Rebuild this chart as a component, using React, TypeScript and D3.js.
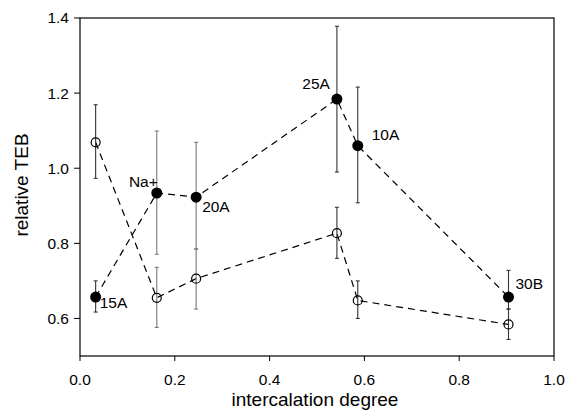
import * as d3 from "d3";

// filled markers (labelled samples)
const labels = ["15A", "Na+", "20A", "25A", "10A", "30B"];
const filledX = [0.033, 0.162, 0.245, 0.542, 0.586, 0.904];
const filledY = [0.657, 0.934, 0.923, 1.184, 1.06, 0.657];
const filledHi = [0.7, 1.099, 1.069, 1.378, 1.216, 0.728];
const filledLo = [0.617, 0.771, 0.785, 0.99, 0.908, 0.625];

// open markers
const openX = [0.033, 0.162, 0.245, 0.542, 0.586, 0.904];
const openY = [1.069, 0.655, 0.706, 0.827, 0.648, 0.584];
const openHi = [1.169, 0.736, 0.785, 0.896, 0.7, 0.625];
const openLo = [0.973, 0.576, 0.625, 0.76, 0.6, 0.544];

const xTicks = [0, 0.2, 0.4, 0.6, 0.8, 1.0];
const yTicks = [0.6, 0.8, 1.0, 1.2, 1.4];

// label offsets relative to the marker
const labelPos: [number, number, string][] = [
  [4, 11, "start"],
  [1, -6, "end"],
  [6, 15, "start"],
  [-7, -10, "end"],
  [14, -6, "start"],
  [7, -8, "start"],
];

const W = 567;
const H = 412;
const FONT = "Liberation Sans, Arial, Helvetica, sans-serif";

export default function App() {
  const x = d3.scaleLinear().domain([0, 1]).range([80, 554]);
  const y = d3.scaleLinear().domain([0.5, 1.4]).range([356, 18]);

  const line = d3
    .line<[number, number]>()
    .x((d) => x(d[0]))
    .y((d) => y(d[1]));

  const filled = filledX.map((v, i) => [v, filledY[i]] as [number, number]);
  const open = openX.map((v, i) => [v, openY[i]] as [number, number]);

  const errColor = (i: number) => (i === 1 || i === 2 ? "#7a7a7a" : "#333");

  return (
    <svg
      width={W}
      height={H}
      style={{ position: "absolute", left: 0, top: 0, background: "#fff" }}
      fontFamily={FONT}
    >
      {/* frame */}
      <rect
        x={x(0)}
        y={y(1.4)}
        width={x(1) - x(0)}
        height={y(0.5) - y(1.4)}
        fill="none"
        stroke="#000"
        strokeWidth={1.2}
      />

      {/* x axis */}
      {xTicks.map((t) => (
        <g key={"x" + t}>
          <line x1={x(t)} x2={x(t)} y1={y(0.5)} y2={y(0.5) + 5} stroke="#000" />
          <text
            x={x(t)}
            y={385}
            textAnchor="middle"
            fontSize={15.5}
            fill="#000"
          >
            {t.toFixed(1)}
          </text>
        </g>
      ))}
      <text x={x(0.5) - 2} y={406} textAnchor="middle" fontSize={19} fill="#000">
        intercalation degree
      </text>

      {/* y axis */}
      {yTicks.map((t) => (
        <g key={"y" + t}>
          <line x1={x(0) - 6} x2={x(0)} y1={y(t)} y2={y(t)} stroke="#000" />
          <text
            x={x(0) - 11}
            y={y(t)}
            dy="0.35em"
            textAnchor="end"
            fontSize={15.5}
            fill="#000"
          >
            {t.toFixed(1)}
          </text>
        </g>
      ))}
      <text
        transform={`translate(28,${(y(0.5) + y(1.4)) / 2 - 2}) rotate(-90)`}
        textAnchor="middle"
        fontSize={19}
        fill="#000"
      >
        relative TEB
      </text>

      {/* dashed connecting lines */}
      <path
        d={line(open) ?? ""}
        fill="none"
        stroke="#000"
        strokeWidth={1.2}
        strokeDasharray="7,5"
      />
      <path
        d={line(filled) ?? ""}
        fill="none"
        stroke="#000"
        strokeWidth={1.2}
        strokeDasharray="7,5"
      />

      {/* error bars */}
      {openX.map((v, i) => (
        <g key={"oe" + i} stroke={errColor(i)} strokeWidth={1.1}>
          <line x1={x(v)} x2={x(v)} y1={y(openHi[i])} y2={y(openLo[i])} />
          <line x1={x(v) - 2} x2={x(v) + 2} y1={y(openHi[i])} y2={y(openHi[i])} />
          <line x1={x(v) - 2} x2={x(v) + 2} y1={y(openLo[i])} y2={y(openLo[i])} />
        </g>
      ))}
      {filledX.map((v, i) => (
        <g key={"fe" + i} stroke={errColor(i)} strokeWidth={1.1}>
          <line x1={x(v)} x2={x(v)} y1={y(filledHi[i])} y2={y(filledLo[i])} />
          <line x1={x(v) - 2} x2={x(v) + 2} y1={y(filledHi[i])} y2={y(filledHi[i])} />
          <line x1={x(v) - 2} x2={x(v) + 2} y1={y(filledLo[i])} y2={y(filledLo[i])} />
        </g>
      ))}

      {/* markers */}
      {open.map((d, i) => (
        <circle
          key={"o" + i}
          cx={x(d[0])}
          cy={y(d[1])}
          r={4.5}
          fill="none"
          stroke="#000"
          strokeWidth={1.2}
        />
      ))}
      {filled.map((d, i) => (
        <circle key={"f" + i} cx={x(d[0])} cy={y(d[1])} r={5.5} fill="#000" />
      ))}

      {/* labels */}
      {filled.map((d, i) => (
        <text
          key={"l" + i}
          x={x(d[0]) + labelPos[i][0]}
          y={y(d[1]) + labelPos[i][1]}
          textAnchor={labelPos[i][2] as any}
          fontSize={15.5}
          fill="#000"
        >
          {labels[i]}
        </text>
      ))}
    </svg>
  );
}
